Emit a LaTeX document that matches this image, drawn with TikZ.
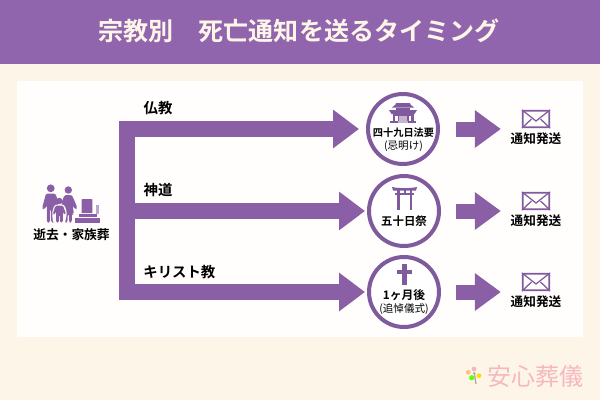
\documentclass[tikz,border=0pt]{standalone}
\usepackage{fontspec}
\setmainfont{Noto Sans CJK JP}[BoldFont={Noto Sans CJK JP Bold}]
\usetikzlibrary{arrows.meta}
\definecolor{headbg}{HTML}{9065AD}
\definecolor{treecol}{HTML}{8A5FA6}
\definecolor{ringcol}{HTML}{7F5B9E}
\definecolor{pagebg}{HTML}{FEF5E9}
\definecolor{panelbg}{HTML}{FFFEFC}
\definecolor{logocol}{HTML}{F6B7BE}
\tikzset{
  trunk/.style={draw=treecol,line width=3.3mm,line cap=rect},
  branch/.style={draw=treecol,line width=3.3mm,-{Triangle[length=5.2mm,width=7.4mm]}},
  sendarrow/.style={draw=treecol,line width=3mm,-{Triangle[length=5.2mm,width=7.2mm]},shorten >=4.2mm},
  ring/.style={circle,draw=ringcol,line width=0.8mm,fill=white,minimum size=14mm,inner sep=0pt},
  mailbox/.style={rectangle,draw=ringcol,line width=0.35mm,rounded corners=0.2mm,minimum width=5.3mm,minimum height=3.3mm,inner sep=0pt},
  label/.style={inner sep=0pt,font=\bfseries\fontsize{8.2}{10}\selectfont},
  ringbold/.style={inner sep=0pt,font=\bfseries\fontsize{5.9}{7}\selectfont},
  ringsmall/.style={inner sep=0pt,font=\fontsize{6}{7}\selectfont},
  sendtext/.style={inner sep=0pt,font=\bfseries\fontsize{7.2}{9}\selectfont},
}
\newcommand{\mailflap}[1]{
\draw[ringcol,line width=0.25mm] (#1.north west) -- ([yshift=-0.4mm]#1.center) -- (#1.north east);
\draw[ringcol,line width=0.25mm] (#1.south west) -- ([xshift=-0.9mm]#1.center);
\draw[ringcol,line width=0.25mm] (#1.south east) -- ([xshift=0.9mm]#1.center);
}
\begin{document}
\begin{tikzpicture}[x=0.2mm,y=0.2mm]
\useasboundingbox (0,0) rectangle (600,-400);
% page
\fill[pagebg] (0,0) rectangle (600,-400);
\fill[headbg] (0,0) rectangle (600,-64);
\fill[panelbg] (17,-81) rectangle (583,-337);
\node (title) at (299,-31) [inner sep=0pt,text=pagebg,font=\bfseries\fontsize{14.25}{16}\selectfont] {宗教別　死亡通知を送るタイミング};
% left side
\fill[treecol] (50.7,-188.3) circle (3.9);
\fill[treecol] (68.3,-190) circle (3.7);
\fill[treecol] (59.3,-201) circle (3.2);
\fill[treecol,rounded corners=1.2] (46,-193.5) -- (55.5,-193.5) -- (59,-204) -- (56.5,-207) -- (54.5,-205) -- (54.5,-222.5) -- (51.2,-222.5) -- (51.2,-209) -- (50,-209) -- (50,-222.5) -- (46.8,-222.5) -- (46.8,-205) -- (44.5,-209.5) -- (42,-208.5) -- cycle;
\fill[treecol,rounded corners=1.2] (64.5,-195) -- (72,-195) -- (77.5,-208) -- (75,-209.5) -- (72.5,-205) -- (74,-214) -- (71.8,-214) -- (71.8,-222.5) -- (69,-222.5) -- (69,-214) -- (67.5,-214) -- (67.5,-222.5) -- (65,-222.5) -- (65,-208) -- (63,-205) -- (61,-204) -- cycle;
\fill[panelbg,rounded corners=1.5] (54.5,-204.5) -- (64.5,-204.5) -- (67,-213) -- (65,-223) -- (53,-223) -- (52,-213) -- cycle;
\fill[treecol,rounded corners=0.8] (55.5,-205.5) -- (63,-205.5) -- (66,-214) -- (64.2,-215) -- (62.8,-211) -- (62.8,-222.5) -- (60,-222.5) -- (60,-215) -- (59,-215) -- (59,-222.5) -- (56,-222.5) -- (56,-211) -- (54.6,-215) -- (52.8,-214) -- cycle;
\fill[treecol] (81.7,-199.5) -- (83,-199) -- (91,-199) -- (92.3,-199.5) -- (92.3,-213) -- (81.7,-213) -- cycle;
\fill[treecol] (79,-214) rectangle (96.7,-216.5);
\fill[treecol] (75,-218) rectangle (100,-222.5);
\fill[treecol!55] (95.5,-205) rectangle (98.5,-214);
\node (dead) at (71.5,-234.5) [sendtext,font=\bfseries\fontsize{7.25}{9}\selectfont] {逝去・家族葬};
% tree
\coordinate (bus1) at (127,-129);
\coordinate (bus2) at (127,-211);
\coordinate (bus3) at (127,-292);
\node (ringa) at (403,-129) [ring] {};
\node (ringb) at (404,-211) [ring] {};
\node (ringc) at (404,-292) [ring] {};
\draw[trunk] (bus1) -- (bus3);
\draw[branch,shorten >=1.4mm] (bus1) -- (ringa);
\draw[branch,shorten >=0.4mm] (bus2) -- (ringb);
\draw[branch,shorten >=0.4mm] (bus3) -- (ringc);
\node (buddha) at (158,-108.5) [label] {仏教};
\node (shinto) at (158,-190.5) [label] {神道};
\node (christ) at (143,-272.5) [label,anchor=west] {キリスト教};
% temple
\fill[ringcol] (396,-103) -- (410,-103) -- (410.5,-104.5) -- (414,-107.5) -- (392,-107.5) -- (395.5,-104.5) -- cycle;
\fill[ringcol] (396,-107.5) rectangle (410,-110.5);
\fill[ringcol] (389,-110) -- (417,-110) -- (414.5,-114) -- (391.5,-114) -- cycle;
\fill[ringcol] (392.5,-114) rectangle (413.5,-121);
\fill[panelbg] (395,-115.5) rectangle (397.5,-121);
\fill[panelbg] (408.5,-115.5) rectangle (411,-121);
\fill[ringcol!45] (399,-115.5) rectangle (407,-121);
\fill[ringcol] (390,-121) rectangle (398,-123);
\fill[ringcol] (408,-121) rectangle (416,-123);
\fill[ringcol!45] (398,-121) rectangle (408,-123);
\node (fortynine) at (403.5,-133) [ringbold,font=\bfseries\fontsize{5.8}{7}\selectfont] {四十九日法要};
\node (imiake) at (403.5,-146) [ringsmall] {(忌明け)};
% torii
\fill[ringcol] (392,-187) .. controls (398,-188.5) and (411,-188.5) .. (417,-187) -- (416,-190.5) -- (393,-190.5) -- cycle;
\fill[ringcol] (395,-193) rectangle (414,-195);
\fill[ringcol] (396.8,-190) rectangle (399.5,-210);
\fill[ringcol] (409.5,-190) rectangle (412.2,-210);
\fill[ringcol] (403.5,-190) rectangle (405.5,-193);
\node (fifty) at (404,-221) [ringbold,font=\bfseries\fontsize{6.5}{8}\selectfont] {五十日祭};
% cross
\fill[ringcol] (402,-264) rectangle (407,-285);
\fill[ringcol] (397,-270) rectangle (412,-274);
\node (month) at (404,-295) [ringbold,font=\bfseries\fontsize{6.7}{8}\selectfont] {1ヶ月後};
\node (memorial) at (404,-309) [ringsmall] {(追悼儀式)};
% right side
\node (maila) at (536,-119) [mailbox] {};
\node (mailb) at (536,-201) [mailbox] {};
\node (mailc) at (536,-282) [mailbox] {};
\mailflap{maila}
\mailflap{mailb}
\mailflap{mailc}
\draw[sendarrow,shorten <=3.2mm] (ringa) -- (ringa -| maila.west);
\draw[sendarrow,shorten <=3mm] (ringb) -- (ringb -| mailb.west);
\draw[sendarrow,shorten <=3mm] (ringc) -- (ringc -| mailc.west);
\node (senda) at (536,-139) [sendtext] {通知発送};
\node (sendb) at (536,-221) [sendtext] {通知発送};
\node (sendc) at (536,-302) [sendtext] {通知発送};
% logo
\draw[gray!70,line width=0.25mm] (474.5,-374) -- (476,-384);
\fill[orange!50] (468.3,-372.3) circle (2.4);
\fill[logocol] (474,-369) circle (2.4);
\fill[yellow!80!orange] (479,-375.7) circle (2.4);
\fill[green!60!yellow] (471.7,-377.7) circle (2.6);
\fill[gray!60] (474.3,-373.3) circle (1.5);
\node (logo) at (535.5,-376) [inner sep=0pt,text=logocol,font=\fontsize{13.6}{15}\selectfont] {安心葬儀};
\end{tikzpicture}
\end{document}
